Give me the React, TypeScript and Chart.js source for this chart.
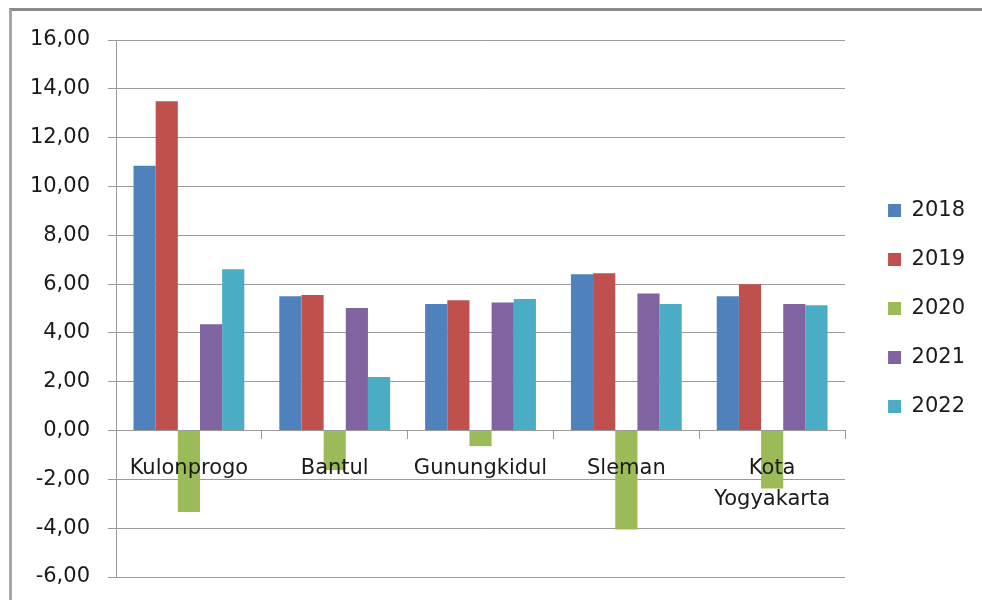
import React, { useEffect, useRef } from "react";
import { Chart, registerables } from "chart.js";

Chart.register(...registerables);

const categories: (string | string[])[] = ["Kulonprogo", "Bantul", "Gunungkidul", "Sleman", ["Kota", "Yogyakarta"]];
const seriesNames = ["2018", "2019", "2020", "2021", "2022"];
const values2018 = [10.85, 5.5, 5.18, 6.4, 5.5];
const values2019 = [13.49, 5.55, 5.34, 6.44, 5.99];
const values2020 = [-3.34, -1.62, -0.64, -4.05, -2.37];
const values2021 = [4.35, 5.02, 5.25, 5.61, 5.18];
const values2022 = [6.61, 2.19, 5.39, 5.18, 5.13];
const seriesColors = ["#4F81BD", "#C0504D", "#9BBB59", "#8064A2", "#4BACC6"];
const yMin = -6;
const yMax = 16;
const yStep = 2;

const FONT = "'DejaVu Sans', sans-serif";
const GRID = "#9a9a9a";
const TEXT = "#1a1a1a";

export default function App() {
  const ref = useRef<HTMLCanvasElement | null>(null);

  useEffect(() => {
    if (!ref.current) return;
    const allValues = [values2018, values2019, values2020, values2021, values2022];
    const chart = new Chart(ref.current, {
      type: "bar",
      data: {
        labels: categories as any,
        datasets: seriesNames.map((name, i) => ({
          label: name,
          data: allValues[i],
          backgroundColor: seriesColors[i],
          borderWidth: 0,
          categoryPercentage: 0.76,
          barPercentage: 1,
        })),
      },
      options: {
        animation: false,
        responsive: false,
        maintainAspectRatio: false,
        layout: { padding: { top: 40, bottom: 23, left: 0, right: 7 } },
        plugins: {
          tooltip: { enabled: false },
          legend: {
            position: "right",
            labels: {
              boxWidth: 13,
              boxHeight: 13,
              padding: 28,
              color: TEXT,
              font: { family: FONT, size: 21 },
            },
          },
        },
        scales: {
          x: {
            type: "category",
            position: { y: 0 } as any,
            offset: true,
            grid: {
              display: true,
              drawOnChartArea: false,
              drawTicks: true,
              tickLength: 8,
              color: GRID,
              offset: true,
            },
            border: { display: true, color: GRID },
            ticks: {
              z: 1,
              color: TEXT,
              padding: 14,
              maxRotation: 0,
              autoSkip: false,
              font: { family: FONT, size: 21, lineHeight: 1.48 },
            },
          },
          y: {
            type: "linear",
            position: "left",
            min: yMin,
            max: yMax,
            grid: { color: GRID, tickLength: 8, drawTicks: true },
            border: { display: true, color: GRID },
            ticks: {
              stepSize: yStep,
              padding: 18,
              color: TEXT,
              font: { family: FONT, size: 21, lineHeight: 0.4 },
              callback: (v: any) => Number(v).toFixed(2).replace(".", ","),
            },
            afterFit: (s: any) => {
              s.width = 116;
            },
          },
          spacer: {
            type: "linear",
            position: "right",
            display: true,
            grid: { display: false, drawTicks: false },
            border: { display: false },
            ticks: { display: false },
            afterFit: (s: any) => {
              s.width = 15;
            },
          },
        },
      } as any,
    });
    return () => chart.destroy();
  }, []);

  return (
    <div>
      <div
        style={{
          position: "fixed",
          left: 9,
          top: 8,
          width: 2000,
          height: 2000,
          borderTop: "3px solid #8a8a8a",
          borderLeft: "3px solid #a6a6a6",
          boxSizing: "border-box",
        }}
      />
      <canvas
        ref={ref}
        width={982}
        height={600}
        style={{ position: "fixed", left: 0, top: 0, width: 982, height: 600 }}
      />
    </div>
  );
}
